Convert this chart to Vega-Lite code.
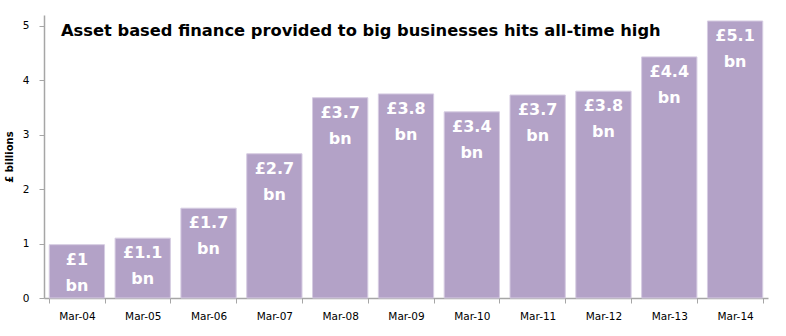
{
  "$schema": "https://vega.github.io/schema/vega-lite/v6.json",
  "autosize": {"type": "none"},
  "width": 724,
  "height": 283,
  "padding": {"left": 44, "top": 15, "right": 18, "bottom": 38},
  "background": "white",
  "title": {
    "text": "Asset based finance provided to big businesses hits all-time high",
    "anchor": "start",
    "frame": "group",
    "orient": "top",
    "baseline": "alphabetic",
    "offset": -37,
    "dx": 17,
    "font": "DejaVu Sans",
    "fontSize": 16.3,
    "fontWeight": "bold",
    "color": "#000000"
  },
  "data": {
    "values": [
      {"month": "Mar-04", "value": 0.98, "label": "£1\nbn"},
      {"month": "Mar-05", "value": 1.1, "label": "£1.1\nbn"},
      {"month": "Mar-06", "value": 1.65, "label": "£1.7\nbn"},
      {"month": "Mar-07", "value": 2.65, "label": "£2.7\nbn"},
      {"month": "Mar-08", "value": 3.68, "label": "£3.7\nbn"},
      {"month": "Mar-09", "value": 3.75, "label": "£3.8\nbn"},
      {"month": "Mar-10", "value": 3.42, "label": "£3.4\nbn"},
      {"month": "Mar-11", "value": 3.73, "label": "£3.7\nbn"},
      {"month": "Mar-12", "value": 3.8, "label": "£3.8\nbn"},
      {"month": "Mar-13", "value": 4.43, "label": "£4.4\nbn"},
      {"month": "Mar-14", "value": 5.09, "label": "£5.1\nbn"}
    ]
  },
  "encoding": {
    "x": {
      "field": "month",
      "type": "ordinal",
      "sort": null,
      "scale": {"paddingInner": 0.16, "paddingOuter": 0.08},
      "axis": {
        "title": null,
        "labelAngle": 0,
        "labelFont": "DejaVu Sans",
        "labelFontSize": 10.5,
        "labelColor": "#000000",
        "labelPadding": 8,
        "tickBand": "extent",
        "tickSize": 5,
        "tickColor": "#a6a6a6",
        "domainColor": "#a6a6a6",
        "domainWidth": 1.5
      }
    },
    "y": {
      "field": "value",
      "type": "quantitative",
      "scale": {"domain": [0, 5.2], "nice": false},
      "axis": {
        "values": [0, 1, 2, 3, 4, 5],
        "title": "£ billions",
        "titleFont": "DejaVu Sans",
        "titleFontSize": 10,
        "titleFontWeight": "bold",
        "titleColor": "#000000",
        "titlePadding": 8,
        "grid": false,
        "labelFont": "DejaVu Sans",
        "labelFontSize": 10.5,
        "labelColor": "#000000",
        "labelPadding": 10,
        "tickSize": 5,
        "tickColor": "#a6a6a6",
        "domainColor": "#a6a6a6",
        "domainWidth": 1.5
      }
    }
  },
  "layer": [
    {
      "mark": {"type": "bar", "color": "#b3a2c7", "stroke": "#d6cce2", "strokeWidth": 1}
    },
    {
      "mark": {
        "type": "text",
        "baseline": "top",
        "align": "center",
        "dy": 7,
        "lineBreak": "\n",
        "lineHeight": 26,
        "font": "DejaVu Sans",
        "fontSize": 16,
        "fontWeight": "bold",
        "color": "#ffffff"
      },
      "encoding": {"text": {"field": "label"}}
    }
  ],
  "config": {"view": {"stroke": null}}
}
